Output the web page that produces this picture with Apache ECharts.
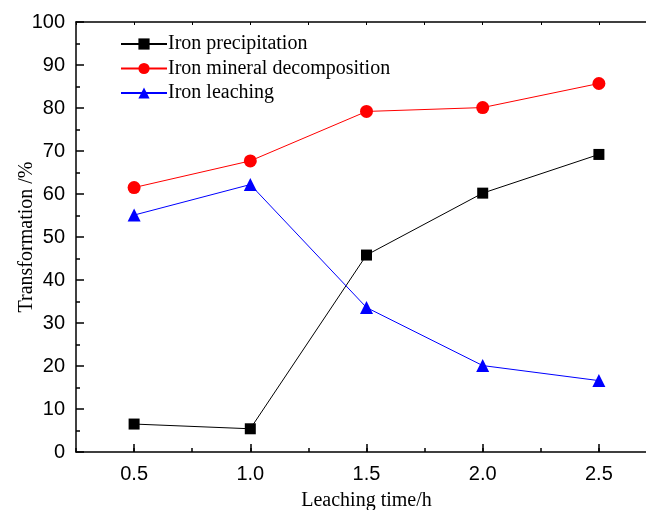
<!DOCTYPE html>
<html>
<head>
<meta charset="utf-8">
<script src="https://cdn.jsdelivr.net/npm/echarts@6/dist/echarts.min.js"></script>
<style>
  html, body { margin: 0; padding: 0; background: #fff; }
  #chart { width: 646px; height: 510px; }
</style>
</head>
<body>
<div id="chart"></div>
<script>
// Leaching time (h)
const leachingTime = [0.5, 1.0, 1.5, 2.0, 2.5];
// Transformation (%) for each process
const ironPrecipitation = [6.5, 5.4, 45.8, 60.2, 69.2];
const ironMineralDecomposition = [61.5, 67.7, 79.2, 80.1, 85.7];
const ironLeaching = [55.1, 62.2, 33.6, 20.1, 16.6];

const seriesNames = ['Iron precipitation', 'Iron mineral decomposition', 'Iron leaching'];
const xTickLabels = ['0.5', '1.0', '1.5', '2.0', '2.5'];
const yTickLabels = ['0', '10', '20', '30', '40', '50', '60', '70', '80', '90', '100'];

const X_MIN = 0.25, X_MAX = 2.75;
const GRID_LEFT = 76, GRID_RIGHT = -11, GRID_TOP = 22, GRID_BOTTOM = 58;
const plotWidth = 646 - GRID_LEFT - GRID_RIGHT;
// second grid starts at the first labelled tick so its major ticks line up
const majorLeft = GRID_LEFT + plotWidth * (leachingTime[0] - X_MIN) / (X_MAX - X_MIN);

const sansFont = '"Liberation Sans", Arial, sans-serif';
const serifFont = '"Liberation Serif", "Times New Roman", serif';

const pairs = (ys) => leachingTime.map((x, i) => [x, ys[i]]);
const fmtX = (v) => {
  const s = v.toFixed(1);
  return xTickLabels.indexOf(s) >= 0 && Math.abs(v * 2 - Math.round(v * 2)) < 1e-6 ? s : '';
};

const chart = echarts.init(document.getElementById('chart'), null, { renderer: 'canvas' });
chart.setOption({
  animation: false,
  backgroundColor: '#fff',
  grid: [
    { left: GRID_LEFT, right: GRID_RIGHT, top: GRID_TOP, bottom: GRID_BOTTOM, containLabel: false, outerBoundsMode: 'none' },
    { left: majorLeft, right: GRID_RIGHT, top: GRID_TOP, bottom: GRID_BOTTOM, containLabel: false, outerBoundsMode: 'none' }
  ],
  legend: {
    orient: 'vertical',
    left: 120,
    top: 34,
    padding: 0,
    itemWidth: 46,
    itemHeight: 14,
    itemGap: 4.5,
    data: seriesNames,
    textStyle: { fontFamily: serifFont, fontSize: 20, color: '#000', lineHeight: 20, padding: [0, 0, 0, -4] }
  },
  xAxis: [
    {
      gridIndex: 0, type: 'value', position: 'bottom',
      min: X_MIN, max: X_MAX, interval: 0.25,
      name: 'Leaching time/h', nameLocation: 'middle', nameGap: 39,
      nameTextStyle: { fontFamily: serifFont, fontSize: 20, color: '#000' },
      axisLine: { show: true, lineStyle: { color: '#000', width: 1.5 } },
      axisTick: { show: true, inside: true, length: 4, lineStyle: { color: '#000', width: 1.5 } },
      axisLabel: { show: true, margin: 12, fontFamily: sansFont, fontSize: 20, color: '#000', formatter: fmtX, showMinLabel: true, showMaxLabel: true },
      splitLine: { show: false }
    },
    {
      gridIndex: 0, type: 'value', position: 'top',
      min: X_MIN, max: X_MAX, interval: 0.25,
      axisLine: { show: true, lineStyle: { color: '#000', width: 1.5 } },
      axisTick: { show: true, inside: true, length: 3, lineStyle: { color: '#000', width: 1 } },
      axisLabel: { show: false },
      splitLine: { show: false }
    },
    {
      gridIndex: 1, type: 'value', position: 'bottom',
      min: leachingTime[0], max: X_MAX, interval: 0.5,
      axisLine: { show: false },
      axisTick: { show: true, inside: true, length: 8, lineStyle: { color: '#000', width: 1.5 } },
      axisLabel: { show: false },
      splitLine: { show: false }
    }
  ],
  yAxis: [
    {
      gridIndex: 0, type: 'value', position: 'left',
      min: 0, max: 100, interval: 10,
      name: 'Transformation /%', nameLocation: 'middle', nameGap: 49, nameRotate: 90,
      nameMoveOverlap: false,
      nameTextStyle: { fontFamily: serifFont, fontSize: 20, color: '#000', verticalAlign: 'middle' },
      axisLine: { show: true, lineStyle: { color: '#000', width: 1.5 } },
      axisTick: { show: true, inside: true, length: 8, lineStyle: { color: '#000', width: 1.5 } },
      minorTick: { show: true, splitNumber: 2, length: 4, lineStyle: { color: '#000', width: 1.5 } },
      axisLabel: { margin: 11, fontFamily: sansFont, fontSize: 20, color: '#000', formatter: (v) => yTickLabels[Math.round(v / 10)] },
      splitLine: { show: false }
    },
    {
      gridIndex: 1, type: 'value', min: 0, max: 100, show: false
    }
  ],
  series: [
    {
      name: seriesNames[0], type: 'line', xAxisIndex: 0, yAxisIndex: 0,
      data: pairs(ironPrecipitation),
      symbol: 'rect', symbolSize: 11,
      itemStyle: { color: '#000' }, lineStyle: { color: '#000', width: 1 }
    },
    {
      name: seriesNames[1], type: 'line', xAxisIndex: 0, yAxisIndex: 0,
      data: pairs(ironMineralDecomposition),
      symbol: 'circle', symbolSize: 13,
      itemStyle: { color: '#ff0000' }, lineStyle: { color: '#ff0000', width: 1 }
    },
    {
      name: seriesNames[2], type: 'line', xAxisIndex: 0, yAxisIndex: 0,
      data: pairs(ironLeaching),
      symbol: 'triangle', symbolSize: 13,
      itemStyle: { color: '#0000ff' }, lineStyle: { color: '#0000ff', width: 1 }
    }
  ]
});
</script>
</body>
</html>
